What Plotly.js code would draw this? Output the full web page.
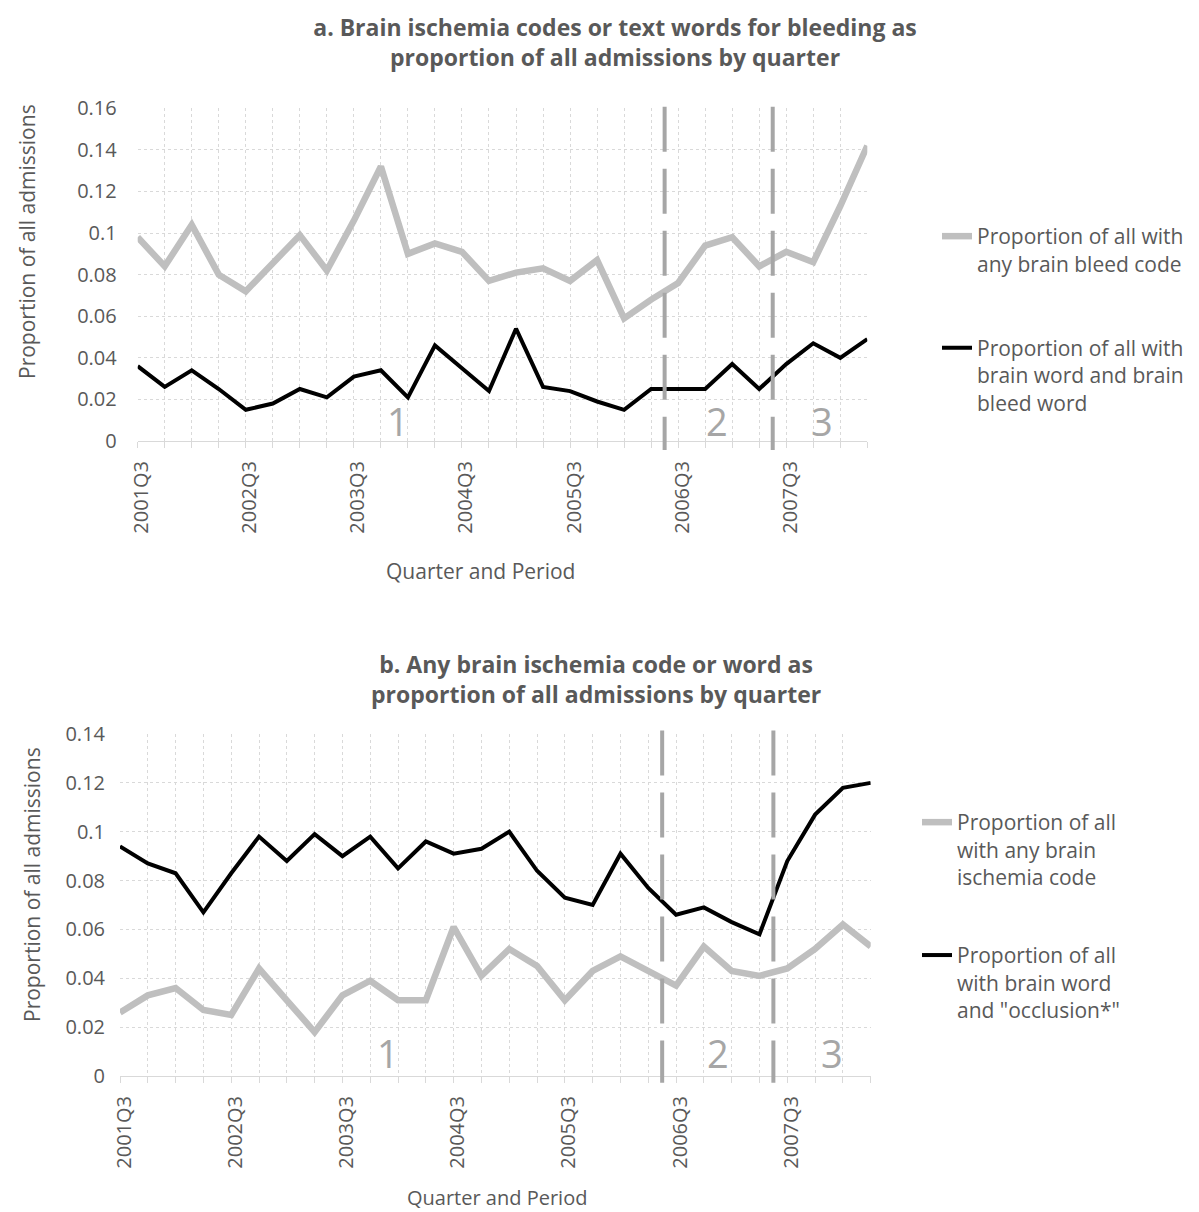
<!DOCTYPE html>
<html>
<head>
<meta charset="utf-8">
<script src="https://cdn.plot.ly/plotly-3.0.1.min.js"></script>
<style>html,body{margin:0;padding:0;background:#fff;}#chart{width:1199px;height:1212px;}</style>
</head>
<body>
<div id="chart"></div>
<script>
// ---- data ----
const quarters = ["2001Q3","2001Q4","2002Q1","2002Q2","2002Q3","2002Q4","2003Q1","2003Q2",
  "2003Q3","2003Q4","2004Q1","2004Q2","2004Q3","2004Q4","2005Q1","2005Q2",
  "2005Q3","2005Q4","2006Q1","2006Q2","2006Q3","2006Q4","2007Q1","2007Q2",
  "2007Q3","2007Q4","2008Q1","2008Q2"];
const tickLabels = ["2001Q3","2002Q3","2003Q3","2004Q3","2005Q3","2006Q3","2007Q3"];

// panel a
const bleedCode = [0.098,0.084,0.104,0.080,0.072,0.085,0.099,0.082,0.106,0.132,0.090,0.095,0.091,0.077,
  0.081,0.083,0.077,0.087,0.059,0.068,0.076,0.094,0.098,0.084,0.091,0.086,0.113,0.142];
const bleedWord = [0.036,0.026,0.034,0.025,0.015,0.018,0.025,0.021,0.031,0.034,0.021,0.046,0.035,0.024,
  0.054,0.026,0.024,0.019,0.015,0.025,0.025,0.025,0.037,0.025,0.037,0.047,0.040,0.049];

// panel b
const ischemiaCode = [0.026,0.033,0.036,0.027,0.025,0.044,0.031,0.018,0.033,0.039,0.031,0.031,0.061,0.041,
  0.052,0.045,0.031,0.043,0.049,0.043,0.037,0.053,0.043,0.041,0.044,0.052,0.062,0.053];
const occlusionWord = [0.094,0.087,0.083,0.067,0.083,0.098,0.088,0.099,0.090,0.098,0.085,0.096,0.091,0.093,
  0.100,0.084,0.073,0.070,0.091,0.077,0.066,0.069,0.063,0.058,0.088,0.107,0.118,0.120];

// period boundaries (between quarters) and period labels
const periodBreaks = [19.5, 23.5];
const periodLabels = ["1", "2", "3"];

const names = {
  bleedCode: "Proportion of all with<br>any brain bleed code",
  bleedWord: "Proportion of all with<br>brain word and brain<br>bleed word",
  ischemiaCode: "Proportion of all<br>with any brain<br>ischemia code",
  occlusionWord: "Proportion of all<br>with brain word<br>and \"occlusion*\""
};

// ---- build ----
const W = 1199, H = 1212;
const xIdx = quarters.map((_, i) => i);
const tickIdx = tickLabels.map(t => quarters.indexOf(t));
const FONT = "Open Sans";
const TXT = "#595959";
const GRID = "#d9d9d9";
const GRAY = "#bfbfbf";
const DASH = "#a6a6a6";

const traces = [
  {x: xIdx, y: bleedCode, type: "scatter", mode: "lines", name: names.bleedCode,
   line: {color: GRAY, width: 6.5}, xaxis: "x", yaxis: "y", legend: "legend", legendgroup: "a1"},
  {x: xIdx, y: bleedWord, type: "scatter", mode: "lines", name: names.bleedWord,
   line: {color: "#000000", width: 4}, xaxis: "x", yaxis: "y", legend: "legend", legendgroup: "a2"},
  {x: xIdx, y: ischemiaCode, type: "scatter", mode: "lines", name: names.ischemiaCode,
   line: {color: GRAY, width: 6.5}, xaxis: "x2", yaxis: "y2", legend: "legend2", legendgroup: "b1"},
  {x: xIdx, y: occlusionWord, type: "scatter", mode: "lines", name: names.occlusionWord,
   line: {color: "#000000", width: 4}, xaxis: "x2", yaxis: "y2", legend: "legend2", legendgroup: "b2"}
];

function xAxis(domain, anchor) {
  return {
    domain: domain, anchor: anchor, range: [0, quarters.length - 1],
    tickmode: "array", tickvals: tickIdx, ticktext: tickLabels,
    tickangle: -90, ticks: "outside", ticklen: 6, tickcolor: GRID, tickwidth: 1,
    ticklabelstandoff: 5, ticklabelshift: 4,
    showgrid: true, gridcolor: GRID, griddash: "dot", gridwidth: 1,
    showline: true, linecolor: GRID, linewidth: 1, zeroline: false,
    minor: {tickmode: "linear", tick0: 0, dtick: 1, showgrid: true, gridcolor: GRID,
            griddash: "dot", gridwidth: 1, ticks: "outside", ticklen: 6, tickcolor: GRID},
    tickfont: {family: FONT, size: 20, color: TXT},
    fixedrange: true
  };
}
function yAxis(domain, anchor, top, standoff) {
  return {
    domain: domain, anchor: anchor, range: [0, top], dtick: 0.02, tick0: 0,
    showgrid: true, gridcolor: GRID, griddash: "dot", gridwidth: 1,
    zeroline: false, showline: false, ticks: "", ticklabelstandoff: standoff,
    tickfont: {family: FONT, size: 20, color: TXT},
    fixedrange: true
  };
}

const shapes = [];
periodBreaks.forEach(b => {
  shapes.push({type: "line", xref: "x", yref: "y domain", x0: b, x1: b, y0: 1.005, y1: -0.027,
    line: {color: DASH, width: 4, dash: "45px,17px"}});
  shapes.push({type: "line", xref: "x2", yref: "y2 domain", x0: b, x1: b, y0: 1.01, y1: -0.02,
    line: {color: DASH, width: 4, dash: "45px,17px"}});
});

const periodPosA = [9.63, 21.43, 25.31];
const periodPosB = [9.65, 21.49, 25.6];
const annotations = [];
periodLabels.forEach((t, i) => {
  annotations.push({text: t, xref: "x", yref: "y", x: periodPosA[i], y: 0.0095, showarrow: false,
    xanchor: "center", yanchor: "middle", font: {family: FONT, size: 38, color: DASH}});
  annotations.push({text: t, xref: "x2", yref: "y2", x: periodPosB[i], y: 0.0095, showarrow: false,
    xanchor: "center", yanchor: "middle", font: {family: FONT, size: 38, color: DASH}});
});
// panel b title
annotations.push({text: "b. Any brain ischemia code or word as<br>proportion of all admissions by quarter",
  xref: "paper", yref: "paper", x: 596 / W, y: 1 - 679 / H, xanchor: "center", yanchor: "middle",
  showarrow: false, font: {family: FONT, size: 23, color: TXT, weight: "bold"}});
// axis titles
annotations.push({text: "Proportion of all admissions", xref: "paper", yref: "paper",
  x: 27 / W, y: 1 - 242 / H, textangle: -90, showarrow: false, xanchor: "center", yanchor: "middle",
  font: {family: FONT, size: 21, color: TXT}});
annotations.push({text: "Proportion of all admissions", xref: "paper", yref: "paper",
  x: 32 / W, y: 1 - 885 / H, textangle: -90, showarrow: false, xanchor: "center", yanchor: "middle",
  font: {family: FONT, size: 21, color: TXT}});
annotations.push({text: "Quarter and Period", xref: "paper", yref: "paper",
  x: 480 / W, y: 1 - 571 / H, showarrow: false, xanchor: "center", yanchor: "middle",
  font: {family: FONT, size: 21, color: TXT}});
annotations.push({text: "Quarter and Period", xref: "paper", yref: "paper",
  x: 497 / W, y: 1 - 1197 / H, showarrow: false, xanchor: "center", yanchor: "middle",
  font: {family: FONT, size: 20, color: TXT}});

const layout = {
  width: W, height: H, margin: {l: 0, r: 0, t: 0, b: 0},
  paper_bgcolor: "#ffffff", plot_bgcolor: "#ffffff",
  title: {text: "a. Brain ischemia codes or text words for bleeding as<br>proportion of all admissions by quarter",
    x: 615 / W, xanchor: "center", y: 1 - 36 / H, yanchor: "middle",
    font: {family: FONT, size: 23, color: TXT, weight: "bold"}},
  xaxis: xAxis([137.7 / W, 867.3 / W], "y"),
  yaxis: yAxis([1 - 441 / H, 1 - 108.3 / H], "x", 0.16, 20),
  xaxis2: xAxis([120 / W, 870.7 / W], "y2"),
  yaxis2: yAxis([1 - 1076 / H, 1 - 734 / H], "x2", 0.14, 14),
  legend: {x: 937 / W, xanchor: "left", y: 1 - 216 / H, yanchor: "top", valign: "top",
    tracegroupgap: 54, font: {family: FONT, size: 21, color: TXT}, bgcolor: "rgba(0,0,0,0)"},
  legend2: {x: 917 / W, xanchor: "left", y: 1 - 802 / H, yanchor: "top", valign: "top",
    tracegroupgap: 48, font: {family: FONT, size: 21, color: TXT}, bgcolor: "rgba(0,0,0,0)"},
  shapes: shapes,
  annotations: annotations,
  showlegend: true,
  hovermode: false
};

Plotly.newPlot("chart", traces, layout, {displayModeBar: false, staticPlot: true});
</script>
</body>
</html>
